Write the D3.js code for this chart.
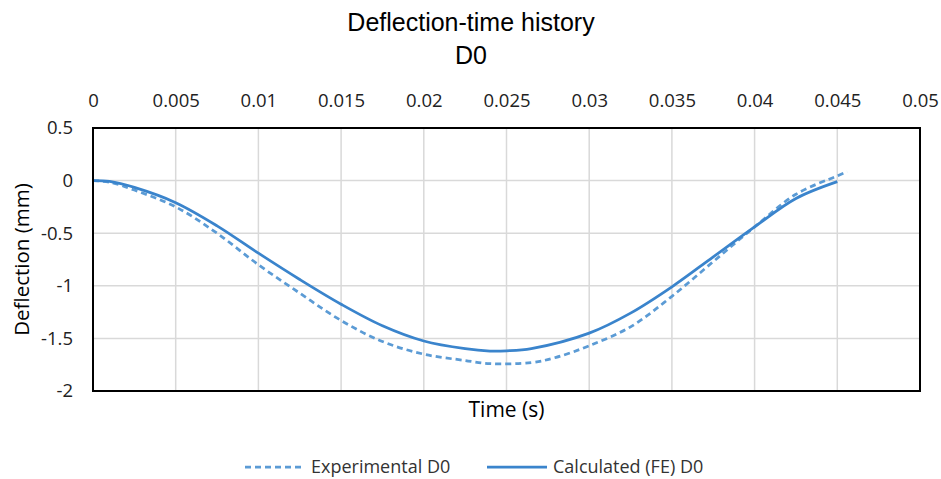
<!DOCTYPE html>
<html>
<head>
<meta charset="utf-8">
<script src="https://cdn.jsdelivr.net/npm/d3@7"></script>
<style>
  body { margin: 0; background: #fff; }
  svg { display: block; }
</style>
</head>
<body>
<svg id="chart" width="941" height="479"></svg>
<script>
/* Deflection-time history D0: experimental vs FE */

const xTicks = [0, 0.005, 0.01, 0.015, 0.02, 0.025, 0.03, 0.035, 0.04, 0.045, 0.05];
const yTicks = [0.5, 0, -0.5, -1, -1.5, -2];

const expTime = [0, 0.001, 0.0025, 0.005, 0.0075, 0.01, 0.0125, 0.015, 0.0175, 0.02, 0.0225,
  0.024, 0.0265, 0.028, 0.03, 0.0325, 0.035, 0.0375, 0.04, 0.0425, 0.045, 0.0456];
const expDefl = [0, -0.015, -0.09, -0.25, -0.50, -0.80, -1.07, -1.33, -1.53, -1.65, -1.71,
  -1.74, -1.73, -1.68, -1.57, -1.39, -1.10, -0.77, -0.44, -0.13, 0.045, 0.085];

const calcTime = [0, 0.001, 0.0025, 0.005, 0.0075, 0.01, 0.0125, 0.015, 0.0175, 0.02, 0.0225,
  0.024, 0.025, 0.0265, 0.03, 0.0325, 0.035, 0.0375, 0.04, 0.0425, 0.045];
const calcDefl = [0, -0.008, -0.065, -0.21, -0.43, -0.69, -0.94, -1.175, -1.38, -1.525, -1.598,
  -1.62, -1.618, -1.597, -1.45, -1.26, -1.01, -0.725, -0.44, -0.17, -0.01];

const series = [
  { name: 'Experimental D0', t: expTime, d: expDefl, color: '#5b9bd5', dash: '6,4' },
  { name: 'Calculated (FE) D0', t: calcTime, d: calcDefl, color: '#3a84cc', dash: null }
];

const svg = d3.select('#chart');
const margin = { left: 93, top: 128, right: 21, bottom: 88 };
const width = 941 - margin.left - margin.right;
const height = 479 - margin.top - margin.bottom;

const x = d3.scaleLinear().domain([0, 0.05]).range([margin.left, margin.left + width]);
const y = d3.scaleLinear().domain([-2, 0.5]).range([margin.top + height, margin.top]);

const tickFont = '"Open Sans", sans-serif';
const titleFont = '"Liberation Sans", Arial, sans-serif';

// Title
svg.append('text')
  .attr('x', 471).attr('y', 31)
  .attr('text-anchor', 'middle')
  .attr('font-family', titleFont)
  .attr('font-size', 25)
  .attr('fill', '#000')
  .text('Deflection-time history');
svg.append('text')
  .attr('x', 471).attr('y', 64)
  .attr('text-anchor', 'middle')
  .attr('font-family', titleFont)
  .attr('font-size', 25)
  .attr('fill', '#000')
  .text('D0');

// Gridlines
const grid = svg.append('g');
grid.selectAll('line.vx')
  .data(xTicks.slice(1, -1))
  .join('line')
  .attr('x1', d => x(d)).attr('x2', d => x(d))
  .attr('y1', margin.top).attr('y2', margin.top + height)
  .attr('stroke', '#d9d9d9').attr('stroke-width', 1.5);
grid.selectAll('line.hy')
  .data(yTicks.slice(1, -1))
  .join('line')
  .attr('x1', margin.left).attr('x2', margin.left + width)
  .attr('y1', d => y(d)).attr('y2', d => y(d))
  .attr('stroke', '#d9d9d9').attr('stroke-width', 1.5);

// Axes (labels only)
const xAxis = svg.append('g')
  .attr('transform', `translate(0,${margin.top})`)
  .call(d3.axisTop(x).tickValues(xTicks).tickSize(0).tickPadding(21).tickFormat(d => String(+d.toFixed(3))));
const yAxis = svg.append('g')
  .attr('transform', `translate(${margin.left},0)`)
  .call(d3.axisLeft(y).tickValues(yTicks).tickSize(0).tickPadding(20).tickFormat(d => String(d)));
[xAxis, yAxis].forEach(a => {
  a.select('.domain').remove();
  a.selectAll('text')
    .attr('font-family', tickFont)
    .attr('font-size', 18.5)
    .attr('fill', '#222');
});

// Lines
const line = d3.line()
  .x(p => x(p[0]))
  .y(p => y(p[1]))
  .curve(d3.curveCatmullRom.alpha(0.5));

series.forEach(s => {
  svg.append('path')
    .datum(s.t.map((t, i) => [t, s.d[i]]))
    .attr('fill', 'none')
    .attr('stroke', s.color)
    .attr('stroke-width', 2.75)
    .attr('stroke-dasharray', s.dash)
    .attr('d', line);
});

// Plot border
svg.append('rect')
  .attr('x', margin.left).attr('y', margin.top)
  .attr('width', width).attr('height', height)
  .attr('fill', 'none')
  .attr('stroke', '#000')
  .attr('stroke-width', 2);

// Axis titles
svg.append('text')
  .attr('x', x(0.025)).attr('y', 417)
  .attr('text-anchor', 'middle')
  .attr('font-family', tickFont)
  .attr('font-size', 21)
  .attr('fill', '#000')
  .text('Time (s)');
svg.append('text')
  .attr('transform', `translate(29,${margin.top + height / 2}) rotate(-90)`)
  .attr('text-anchor', 'middle')
  .attr('font-family', tickFont)
  .attr('font-size', 20.5)
  .attr('fill', '#000')
  .text('Deflection (mm)');

// Legend
const legendItems = [
  { s: series[0], x0: 245 },
  { s: series[1], x0: 487 }
];
legendItems.forEach(it => {
  svg.append('line')
    .attr('x1', it.x0).attr('x2', it.x0 + 60)
    .attr('y1', 467).attr('y2', 467)
    .attr('stroke', it.s.color)
    .attr('stroke-width', 2.75)
    .attr('stroke-dasharray', it.s.dash);
  svg.append('text')
    .attr('x', it.x0 + 66).attr('y', 473)
    .attr('font-family', tickFont)
    .attr('font-size', 18)
    .attr('fill', '#333')
    .text(it.s.name);
});
</script>
</body>
</html>
